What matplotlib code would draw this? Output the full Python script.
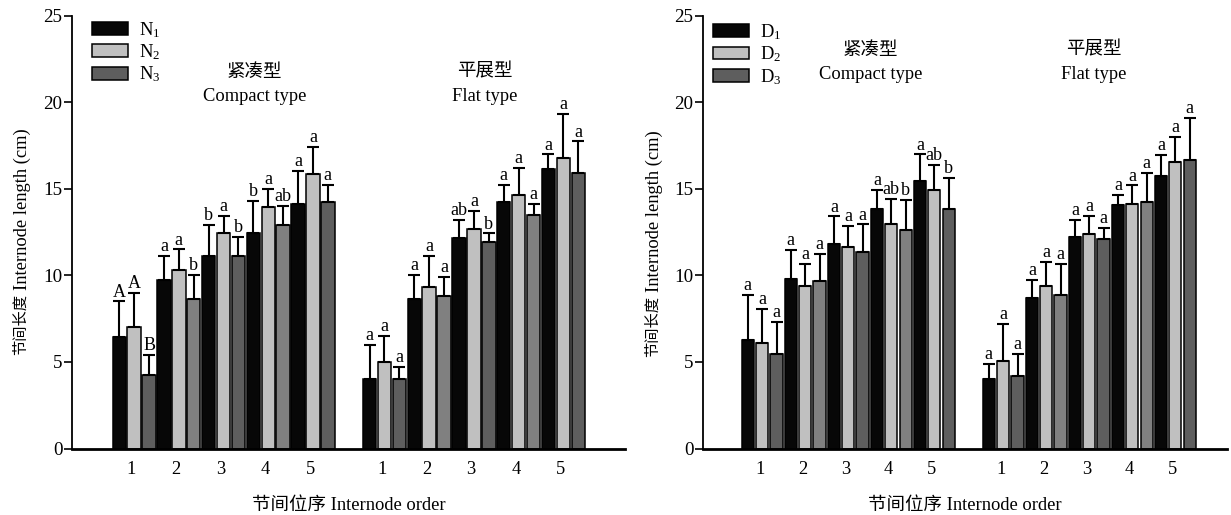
import matplotlib
matplotlib.use('Agg')
import matplotlib.pyplot as plt
from matplotlib.patches import Patch
import numpy as np

plt.rcParams['font.family'] = ['Liberation Serif', 'Noto Sans CJK SC']
plt.rcParams['axes.unicode_minus'] = False

# ---------------- data ----------------
internodes = ['1', '2', '3', '4', '5']

n_labels = [r'$\mathregular{N_1}$', r'$\mathregular{N_2}$', r'$\mathregular{N_3}$']
d_labels = [r'$\mathregular{D_1}$', r'$\mathregular{D_2}$', r'$\mathregular{D_3}$']

# Nitrogen - compact type
n_compact_mean = [[6.45, 9.74, 11.13, 12.42, 14.11],
                  [7.03, 10.30, 12.42, 13.92, 15.82],
                  [4.22, 8.61, 11.11, 12.90, 14.24]]
n_compact_err = [[2.04, 1.39, 1.77, 1.86, 1.90],
                 [1.93, 1.19, 1.00, 1.07, 1.59],
                 [1.19, 1.42, 1.11, 1.09, 0.96]]
n_compact_sig = [['A', 'a', 'b', 'b', 'a'],
                 ['A', 'a', 'a', 'a', 'a'],
                 ['B', 'b', 'b', 'ab', 'a']]
# Nitrogen - flat type
n_flat_mean = [[4.01, 8.61, 12.13, 14.22, 16.15],
               [5.01, 9.30, 12.68, 14.61, 16.80],
               [4.01, 8.80, 11.90, 13.51, 15.91]]
n_flat_err = [[1.96, 1.40, 1.06, 0.98, 0.83],
              [1.48, 1.81, 1.02, 1.59, 2.54],
              [0.71, 1.10, 0.52, 0.60, 1.82]]
n_flat_sig = [['a', 'a', 'ab', 'a', 'a'],
              ['a', 'a', 'a', 'a', 'a'],
              ['a', 'a', 'b', 'a', 'a']]

# Density - compact type
d_compact_mean = [[6.29, 9.77, 11.83, 13.85, 15.42],
                  [6.08, 9.36, 11.63, 12.95, 14.92],
                  [5.48, 9.65, 11.34, 12.64, 13.83]]
d_compact_err = [[2.57, 1.70, 1.57, 1.06, 1.56],
                 [1.98, 1.29, 1.20, 1.45, 1.43],
                 [1.81, 1.60, 1.60, 1.69, 1.77]]
d_compact_sig = [['a', 'a', 'a', 'a', 'a'],
                 ['a', 'a', 'a', 'ab', 'ab'],
                 ['a', 'a', 'a', 'b', 'b']]
# Density - flat type
d_flat_mean = [[4.00, 8.67, 12.23, 14.04, 15.73],
               [5.05, 9.36, 12.41, 14.11, 16.52],
               [4.19, 8.86, 12.12, 14.23, 16.64]]
d_flat_err = [[0.86, 1.08, 0.96, 0.58, 1.23],
              [2.12, 1.39, 1.03, 1.08, 1.46],
              [1.29, 1.78, 0.60, 1.67, 2.44]]
d_flat_sig = [['a', 'a', 'a', 'a', 'a'],
              ['a', 'a', 'a', 'a', 'a'],
              ['a', 'a', 'a', 'a', 'a']]

ylabel_cn = '节间长度'
ylabel_en = 'Internode length (cm)'
xlabel = '节间位序 Internode order'

# ---------------- styling ----------------
c1 = '#070707'
c2 = '#c0c0c0'
c3_dark = '#5e5e5e'
c3_mid = '#808080'
FS = 13.3
W, H = 1231, 515


def draw_panel(ax, compact_mean, compact_err, compact_sig,
               flat_mean, flat_err, flat_sig, labels, width, xlim, leg_x, leg_y):
    base_compact = np.arange(5)
    base_flat = np.arange(5) + 5.6
    off = 1.0 / 3.0
    for base, means, errs, sigs in ((base_compact, compact_mean, compact_err, compact_sig),
                                    (base_flat, flat_mean, flat_err, flat_sig)):
        for s in range(3):
            x = base + (s - 1) * off
            m = np.array(means[s])
            e = np.array(errs[s])
            if s == 0:
                cols = [c1] * 5
            elif s == 1:
                cols = [c2] * 5
            else:
                cols = [c3_dark if i % 2 == 0 else c3_mid for i in range(5)]
            ax.bar(x, m, width=width, color=cols, edgecolor='black',
                   linewidth=1.1, zorder=2)
            ax.errorbar(x, m, yerr=[np.zeros(5), e], fmt='none', ecolor='black',
                        elinewidth=1.5, capsize=4.5, capthick=1.5, zorder=3)
            for xi, top, lab in zip(x, m + e, sigs[s]):
                ax.annotate(lab, (xi, top), xytext=(0, 3.5), textcoords='offset points',
                            ha='center', va='baseline', fontsize=FS - 0.3)
    ax.set_xticks(np.concatenate([base_compact, base_flat]) - 0.06)
    ax.set_xticklabels(internodes * 2, fontsize=FS)
    ax.tick_params(axis='x', length=0, pad=9)
    ax.tick_params(axis='y', direction='out', length=5.5, width=1.2, labelsize=FS + 0.4, pad=1.5)
    ax.set_ylim(0, 25)
    ax.set_yticks([0, 5, 10, 15, 20, 25])
    ax.set_xlim(*xlim)
    for sp in ('top', 'right'):
        ax.spines[sp].set_visible(False)
    ax.spines['left'].set_linewidth(1.3)
    ax.spines['bottom'].set_linewidth(2.0)
    ax.set_xlabel(xlabel, fontsize=FS, labelpad=14)
    handles = [Patch(facecolor=c, edgecolor='black', linewidth=1.1) for c in (c1, c2, c3_dark)]
    ax.legend(handles, labels, loc='upper left', bbox_to_anchor=(leg_x, leg_y),
              frameon=False, fontsize=FS, handlelength=1.95, handleheight=0.7,
              labelspacing=0.15, handletextpad=0.6, borderpad=0.0, borderaxespad=0.0)


def draw_ylabel(fig, xpix, bottom_pix):
    # Chinese part (set smaller in the original) at the bottom, English part above it
    cn_size = 11.0
    fig.text(xpix / W, (H - bottom_pix) / H, ylabel_cn, rotation=90, ha='center',
             va='bottom', fontsize=cn_size)
    cn_len = 4 * cn_size * 100 / 72
    fig.text((xpix + 1) / W, (H - bottom_pix + cn_len + 4) / H, ylabel_en, rotation=90,
             ha='center', va='bottom', fontsize=FS)


fig = plt.figure(figsize=(W / 100, H / 100), dpi=100)
ax1 = fig.add_axes([72 / W, 66.5 / H, 553 / W, 433 / H])
ax2 = fig.add_axes([703 / W, 66.5 / H, 524 / W, 433 / H])

draw_panel(ax1, n_compact_mean, n_compact_err, n_compact_sig,
           n_flat_mean, n_flat_err, n_flat_sig, n_labels, 0.30, (-1.39, 10.98), 0.036, 0.99)
draw_panel(ax2, d_compact_mean, d_compact_err, d_compact_sig,
           d_flat_mean, d_flat_err, d_flat_sig, d_labels, 0.285, (-1.375, 10.8), 0.019, 0.985)

draw_ylabel(fig, 21, 355)
draw_ylabel(fig, 653, 357)

# group titles
ax1.text(2.7, 21.7, '紧凑型', ha='center', va='center', fontsize=FS)
ax1.text(2.7, 20.3, 'Compact type', ha='center', va='center', fontsize=FS)
ax1.text(7.85, 21.75, '平展型', ha='center', va='center', fontsize=FS)
ax1.text(7.85, 20.3, 'Flat type', ha='center', va='center', fontsize=FS)
ax2.text(2.52, 23.0, '紧凑型', ha='center', va='center', fontsize=FS)
ax2.text(2.52, 21.6, 'Compact type', ha='center', va='center', fontsize=FS)
ax2.text(7.7, 23.0, '平展型', ha='center', va='center', fontsize=FS)
ax2.text(7.7, 21.6, 'Flat type', ha='center', va='center', fontsize=FS)

fig.savefig('out.png', dpi=100)
